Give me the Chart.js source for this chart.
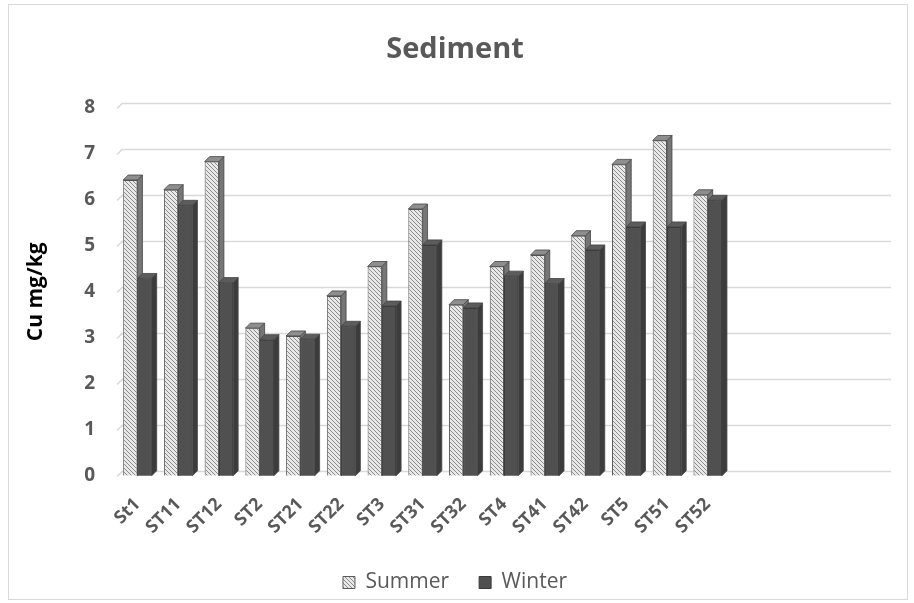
<!DOCTYPE html>
<html>
<head>
<meta charset="utf-8">
<script src="https://cdn.jsdelivr.net/npm/chart.js@4/dist/chart.umd.min.js"></script>
<style>
html,body{margin:0;padding:0;background:#fff;}
#wrap{position:absolute;left:0;top:0;width:914px;height:603px;}
#frame{position:absolute;left:8px;top:4px;width:900px;height:596px;border:1px solid #d9d9d9;box-sizing:border-box;pointer-events:none;}
</style>
</head>
<body>
<div id="wrap"><canvas id="c" width="914" height="603"></canvas><div id="frame"></div></div>
<script>
const categories = ["St1","ST11","ST12","ST2","ST21","ST22","ST3","ST31","ST32","ST4","ST41","ST42","ST5","ST51","ST52","","","",""];
const summer = [6.43,6.22,6.83,3.21,3.04,3.91,4.55,5.80,3.72,4.55,4.80,5.22,6.77,7.29,6.11,null,null,null,null];
const winter = [4.29,5.88,4.20,2.96,2.97,3.25,3.69,5.02,3.65,4.34,4.18,4.91,5.41,5.41,5.99,null,null,null,null];
const yTicks = [0,1,2,3,4,5,6,7,8];

function hatch(){
  const p=document.createElement('canvas');p.width=4;p.height=4;
  const g=p.getContext('2d');
  g.fillStyle='#e8e8e8';g.fillRect(0,0,4,4);
  g.strokeStyle='#8a8a8a';g.lineWidth=1;
  g.beginPath();g.moveTo(0,0);g.lineTo(4,4);g.moveTo(-1,3);g.lineTo(1,5);g.moveTo(3,-1);g.lineTo(5,1);g.stroke();
  return document.getElementById('c').getContext('2d').createPattern(p,'repeat');
}
const D=5;
function faces(chart,di,redraw){
  const meta=chart.getDatasetMeta(di), ctx=chart.ctx, data=chart.data.datasets[di].data;
  const sideCol = di===0 ? '#767676' : '#3c3c3c';
  const topCol = di===0 ? '#8e8e8e' : '#5c5c5c';
  meta.data.forEach((el,i)=>{
    if(data[i]==null) return;
    if(redraw) el.draw(ctx, chart.chartArea);
    const l=el.x-el.width/2, r=el.x+el.width/2, t=el.y, b=el.base;
    ctx.save();
    ctx.strokeStyle='#444';ctx.lineWidth=0.8;
    ctx.fillStyle=sideCol;
    ctx.beginPath();ctx.moveTo(r,t);ctx.lineTo(r+D,t-D);ctx.lineTo(r+D,b-D);ctx.lineTo(r,b);ctx.closePath();ctx.fill();ctx.stroke();
    ctx.fillStyle=topCol;
    ctx.beginPath();ctx.moveTo(l,t);ctx.lineTo(l+D,t-D);ctx.lineTo(r+D,t-D);ctx.lineTo(r,t);ctx.closePath();ctx.fill();ctx.stroke();
    ctx.restore();
  });
}
const depthPlugin={
  id:'depth',
  beforeDatasetsDraw(chart){
    const ctx=chart.ctx, y=chart.scales.y, a=chart.chartArea;
    ctx.save();
    ctx.strokeStyle='#d9d9d9';ctx.lineWidth=1.5;
    yTicks.forEach(v=>{
      const py=Math.round(y.getPixelForValue(v))+0.5;
      ctx.beginPath();
      ctx.moveTo(a.left,py);ctx.lineTo(a.left+D,py-D);ctx.lineTo(a.right,py-D);
      ctx.stroke();
    });
    ctx.restore();
  },
  afterDatasetsDraw(chart){
    faces(chart,0,false);
    faces(chart,1,true);
  }
};

const font="'Open Sans', 'Liberation Sans', sans-serif";
new Chart(document.getElementById('c'),{
  type:'bar',
  data:{labels:categories,datasets:[
    {label:'Summer',data:summer,backgroundColor:hatch(),borderColor:'#5a5a5a',borderWidth:1,categoryPercentage:0.7,barPercentage:1.0},
    {label:'Winter',data:winter,backgroundColor:'#505050',borderColor:'#3a3a3a',borderWidth:1,categoryPercentage:0.7,barPercentage:1.0}
  ]},
  options:{
    responsive:false,animation:false,
    layout:{padding:{left:19,right:23,top:12,bottom:0}},
    plugins:{
      title:{display:true,text:'Sediment',color:'#595959',font:{family:font,size:29,weight:'bold'},padding:{top:20,bottom:41}},
      legend:{position:'bottom',labels:{color:'#595959',font:{family:font,size:21},boxWidth:12,boxHeight:12,padding:30}},
      tooltip:{enabled:false}
    },
    scales:{
      x:{afterFit:s=>{s.height-=6;},grid:{display:false},border:{display:false},ticks:{color:'#595959',font:{family:font,size:18,weight:'bold'},minRotation:45,maxRotation:45,autoSkip:false,padding:10}},
      y:{min:0,max:8,afterBuildTicks:s=>{s.ticks=yTicks.map(v=>({value:v}));},grid:{display:false},border:{display:false},
         ticks:{color:'#595959',font:{family:font,size:19,weight:'bold'},padding:14},
         title:{display:true,text:'Cu mg/kg',color:'#000',font:{family:font,size:21,weight:'bold'},padding:{bottom:22}}}
    }
  },
  plugins:[depthPlugin]
});
</script>
</body>
</html>
